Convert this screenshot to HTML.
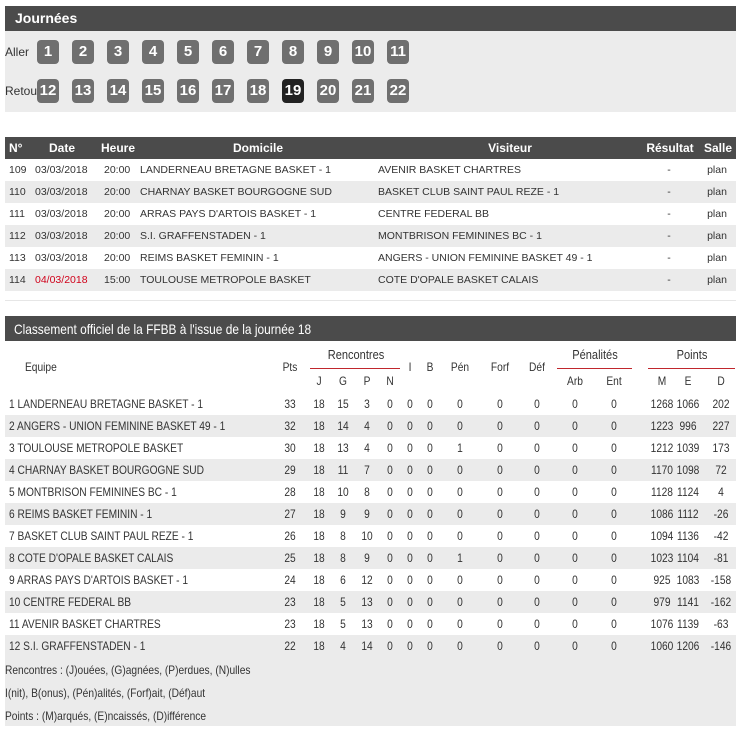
<!DOCTYPE html>
<html><head><meta charset="utf-8"><style>
*{margin:0;padding:0;box-sizing:border-box}
body{width:743px;height:736px;background:#fff;font-family:"Liberation Sans",Arial,sans-serif;color:#333;position:relative;overflow:hidden}
.a{position:absolute;white-space:nowrap}
.bar{position:absolute;left:5px;width:731px;background:#4b4b4b;color:#fff;font-weight:bold}
.btn{position:absolute;width:22px;height:24px;border-radius:4px;background:#6f6f6f;color:#fff;font-weight:bold;font-size:15px;text-align:center;line-height:24px}
.row{position:absolute;left:5px;width:731px;height:22px;font-size:10.5px;line-height:22px}
.g{background:#ebebeb}
.n .a,.a.n{transform:scaleX(.85);transform-origin:0 0}
.c{position:absolute;transform:translateX(-50%);white-space:nowrap}
.n .c{transform:translateX(-50%) scaleX(.85)}
.n{font-size:12px}
.red{position:absolute;height:1px;background:#c0272d;top:368px}
</style></head><body>
<div class="bar" style="top:6px;height:25px;font-size:14px;line-height:25px;padding-left:10px">Journées</div>
<div class="a" style="left:5px;top:31px;width:731px;height:81px;background:#ececec"></div>
<div class="a" style="left:5px;top:45px;font-size:12px">Aller</div>
<div class="a" style="left:5px;top:84px;font-size:12px">Retour</div>
<div id="b"></div>
<div class="bar" style="top:137px;height:22px;font-size:12px;line-height:22px"></div>
<div class="a" style="top:141px;left:9px;color:#fff;font-weight:bold;font-size:12px">N°</div>
<div class="c" style="top:141px;left:62px;color:#fff;font-weight:bold;font-size:12px">Date</div>
<div class="c" style="top:141px;left:118px;color:#fff;font-weight:bold;font-size:12px">Heure</div>
<div class="c" style="top:141px;left:258px;color:#fff;font-weight:bold;font-size:12px">Domicile</div>
<div class="c" style="top:141px;left:510px;color:#fff;font-weight:bold;font-size:12px">Visiteur</div>
<div class="c" style="top:141px;left:670px;color:#fff;font-weight:bold;font-size:12px">Résultat</div>
<div class="c" style="top:141px;left:718px;color:#fff;font-weight:bold;font-size:12px">Salle</div>
<div id="m"></div>
<div class="a" style="left:5px;top:300px;width:731px;height:1px;background:#e6e6e6"></div>
<div class="bar" style="top:316px;height:25px;"></div>
<div class="a n" style="left:14px;top:321px;font-size:14px;color:#fff">Classement officiel de la FFBB à l'issue de la journée 18</div>
<div class="n">
<div class="a" style="left:25px;top:360px">Equipe</div>
<div class="c" style="left:290px;top:360px">Pts</div>
<div class="c" style="left:356px;top:347px;font-size:13px">Rencontres</div>
<div class="c" style="left:595px;top:347px;font-size:13px">Pénalités</div>
<div class="c" style="left:692px;top:347px;font-size:13px">Points</div>
<div class="red" style="left:310px;width:90px"></div>
<div class="red" style="left:557px;width:75px"></div>
<div class="red" style="left:648px;width:87px"></div>
<div class="c" style="left:410px;top:360px">I</div>
<div class="c" style="left:430px;top:360px">B</div>
<div class="c" style="left:460px;top:360px">Pén</div>
<div class="c" style="left:500px;top:360px">Forf</div>
<div class="c" style="left:537px;top:360px">Déf</div>
<div class="c" style="left:319px;top:374px">J</div>
<div class="c" style="left:343px;top:374px">G</div>
<div class="c" style="left:367px;top:374px">P</div>
<div class="c" style="left:390px;top:374px">N</div>
<div class="c" style="left:575px;top:374px">Arb</div>
<div class="c" style="left:614px;top:374px">Ent</div>
<div class="c" style="left:662px;top:374px">M</div>
<div class="c" style="left:688px;top:374px">E</div>
<div class="c" style="left:721px;top:374px">D</div>
</div>
<div id="s"></div>
<div class="a" style="left:5px;top:657px;width:731px;height:69px;background:#ebebeb"></div>
<div class="a n" style="left:5px;top:663px">Rencontres : (J)ouées, (G)agnées, (P)erdues, (N)ulles</div>
<div class="a n" style="left:5px;top:686px">I(nit), B(onus), (Pén)alités, (Forf)ait, (Déf)aut</div>
<div class="a n" style="left:5px;top:709px">Points : (M)arqués, (E)ncaissés, (D)ifférence</div>
<script>
var h='';
for(var i=1;i<=22;i++){var r=i<=11?0:1,k=(i-1)%11;h+='<div class="btn" style="left:'+(37+k*35)+'px;top:'+(40+r*39)+'px;'+(i==19?'background:#222':'')+'">'+i+'</div>';}
document.getElementById('b').innerHTML=h;
var M=[["109","03/03/2018","20:00","LANDERNEAU BRETAGNE BASKET - 1","AVENIR BASKET CHARTRES"],["110","03/03/2018","20:00","CHARNAY BASKET BOURGOGNE SUD","BASKET CLUB SAINT PAUL REZE - 1"],["111","03/03/2018","20:00","ARRAS PAYS D'ARTOIS BASKET - 1","CENTRE FEDERAL BB"],["112","03/03/2018","20:00","S.I. GRAFFENSTADEN - 1","MONTBRISON FEMININES BC - 1"],["113","03/03/2018","20:00","REIMS BASKET FEMININ - 1","ANGERS - UNION FEMININE BASKET 49 - 1"],["114","04/03/2018","15:00","TOULOUSE METROPOLE BASKET","COTE D'OPALE BASKET CALAIS"]];
h='';
M.forEach(function(m,j){h+='<div class="row'+(j%2?' g':'')+'" style="top:'+(159+j*22)+'px"><span class="a" style="left:4px">'+m[0]+'</span><span class="a" style="left:30px;'+(j==5?'color:#d0021b':'')+'">'+m[1]+'</span><span class="a" style="left:99px">'+m[2]+'</span><span class="a" style="left:135px">'+m[3]+'</span><span class="a" style="left:373px">'+m[4]+'</span><span class="c" style="left:664px">-</span><span class="c" style="left:712px">plan</span></div>';});
document.getElementById('m').innerHTML=h;
var S=[["LANDERNEAU BRETAGNE BASKET - 1",33,18,15,3,0,0,0,0,0,0,0,0,1268,1066,202,0],["ANGERS - UNION FEMININE BASKET 49 - 1",32,18,14,4,0,0,0,0,0,0,0,0,1223,996,227],["TOULOUSE METROPOLE BASKET",30,18,13,4,0,0,0,1,0,0,0,0,1212,1039,173],["CHARNAY BASKET BOURGOGNE SUD",29,18,11,7,0,0,0,0,0,0,0,0,1170,1098,72],["MONTBRISON FEMININES BC - 1",28,18,10,8,0,0,0,0,0,0,0,0,1128,1124,4],["REIMS BASKET FEMININ - 1",27,18,9,9,0,0,0,0,0,0,0,0,1086,1112,-26],["BASKET CLUB SAINT PAUL REZE - 1",26,18,8,10,0,0,0,0,0,0,0,0,1094,1136,-42],["COTE D'OPALE BASKET CALAIS",25,18,8,9,0,0,0,1,0,0,0,0,1023,1104,-81],["ARRAS PAYS D'ARTOIS BASKET - 1",24,18,6,12,0,0,0,0,0,0,0,0,925,1083,-158],["CENTRE FEDERAL BB",23,18,5,13,0,0,0,0,0,0,0,0,979,1141,-162],["AVENIR BASKET CHARTRES",23,18,5,13,0,0,0,0,0,0,0,0,1076,1139,-63],["S.I. GRAFFENSTADEN - 1",22,18,4,14,0,0,0,0,0,0,0,0,1060,1206,-146]];
var X=[290,319,343,367,390,410,430,460,500,537,575,614,662,688,721];
h='';
S.forEach(function(s,j){h+='<div class="row n'+(j%2?' g':'')+'" style="top:'+(393+j*22)+'px;font-size:12px"><span class="a" style="left:4px">'+(j+1)+' '+s[0]+'</span>';for(var k=0;k<15;k++)h+='<span class="c" style="left:'+(X[k]-5)+'px">'+s[k+1]+'</span>';h+='</div>';});
document.getElementById('s').innerHTML=h;
</script>
</body></html>
